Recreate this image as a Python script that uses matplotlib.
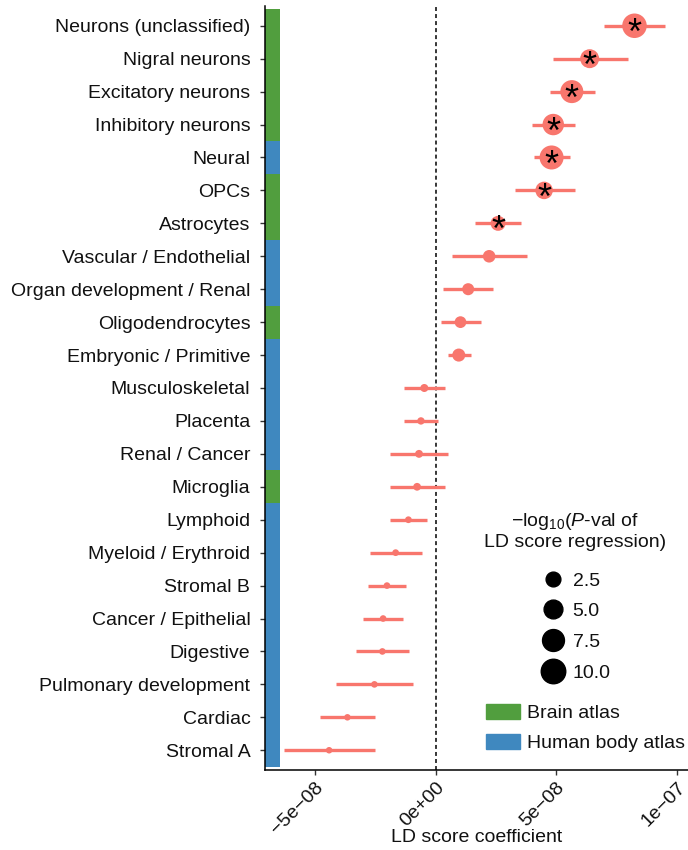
import matplotlib
matplotlib.use("Agg")
import matplotlib.pyplot as plt
from matplotlib.lines import Line2D
from matplotlib.patches import Patch
import numpy as np

plt.rcParams['font.family'] = ['Liberation Sans', 'DejaVu Sans']
plt.rcParams['mathtext.fontset'] = 'custom'
plt.rcParams['mathtext.rm'] = 'Liberation Sans'
plt.rcParams['mathtext.it'] = 'Liberation Sans:italic'

# cell types, top to bottom
cell_types = ["Neurons (unclassified)", "Nigral neurons", "Excitatory neurons",
              "Inhibitory neurons", "Neural", "OPCs", "Astrocytes",
              "Vascular / Endothelial", "Organ development / Renal", "Oligodendrocytes",
              "Embryonic / Primitive", "Musculoskeletal", "Placenta", "Renal / Cancer",
              "Microglia", "Lymphoid", "Myeloid / Erythroid", "Stromal B",
              "Cancer / Epithelial", "Digestive", "Pulmonary development", "Cardiac",
              "Stromal A"]
atlas = ["brain", "brain", "brain", "brain", "body", "brain", "brain",
         "body", "body", "brain", "body", "body", "body", "body",
         "brain", "body", "body", "body", "body", "body", "body", "body", "body"]
# LD score coefficient (units of 1e-9)
coef = [82.5, 63.9, 56.5, 48.8, 48.1, 45.0, 25.9, 22.2, 13.5, 10.3, 9.6,
        -4.7, -6.1, -6.9, -7.7, -11.3, -16.6, -20.2, -21.8, -22.1, -25.4, -36.6, -44.2]
ci_low = [70.0, 48.7, 47.3, 40.0, 40.7, 32.8, 16.3, 6.9, 3.2, 2.1, 5.0,
          -13.0, -13.1, -18.8, -19.0, -18.9, -27.2, -27.9, -30.1, -32.9, -41.4, -47.8, -62.8]
ci_high = [95.2, 79.7, 66.2, 57.8, 55.9, 57.7, 35.6, 37.7, 24.0, 18.9, 14.5,
           3.8, 1.0, 5.0, 3.8, -3.7, -5.8, -12.2, -13.4, -11.2, -9.4, -25.0, -25.3]
neglog_p = [10.0, 5.1, 8.5, 7.1, 9.5, 4.1, 2.6, 1.5, 1.3, 1.2, 1.7,
            0.24, 0.15, 0.22, 0.2, 0.08, 0.08, 0.07, 0.07, 0.07, 0.07, 0.06, 0.06]
significant = [True] * 7 + [False] * 16

size_breaks = [2.5, 5.0, 7.5, 10.0]
xticks = [-5e-8, 0, 5e-8, 1e-7]
xtick_labels = ["\u22125e\u221208", "0e+00", "5e\u221208", "1e\u221207"]

point_col = "#F8766D"
atlas_cols = {"brain": "#519E3E", "body": "#3F88BF"}
text_col = "#111111"


def diam_pt(v):
    # point diameter in points, area-like scaling
    return (5 + 20 * np.sqrt(np.asarray(v) / 10.5)) * 0.72


coef_v = np.array(coef) * 1e-9
lo_v = np.array(ci_low) * 1e-9
hi_v = np.array(ci_high) * 1e-9
ypos = np.arange(len(cell_types))

fig = plt.figure(figsize=(6.88, 8.5), dpi=100)
ax = fig.add_axes([265 / 688, 80 / 850, 423 / 688, 764 / 850])

xmin, xmax = -70.8e-9, 104.7e-9
strip_w = 6.3e-9

# atlas strip
ax.barh(ypos, strip_w, left=xmin, height=1.0,
        color=[atlas_cols[a] for a in atlas], zorder=1)

ax.axvline(0, color="black", lw=1.1, ls=(0, (2.6, 2.0)), zorder=2)

ax.hlines(ypos, lo_v, hi_v, color=point_col, lw=2.4, zorder=3)
ax.scatter(coef_v, ypos, s=diam_pt(neglog_p) ** 2, color=point_col,
           edgecolors="none", zorder=4)

for x, y, sig in zip(coef_v, ypos, significant):
    if sig:
        ax.annotate("*", (x, y), xytext=(0, -13), textcoords="offset points",
                    ha="center", va="baseline", fontsize=26, color="black",
                    zorder=5)

ax.set_xlim(xmin, xmax)
ax.set_ylim(len(cell_types) - 0.4, -0.6)
ax.set_yticks(ypos)
ax.set_yticklabels(cell_types, fontsize=14, color=text_col)
ax.set_xticks(xticks)
ax.set_xticklabels(xtick_labels, fontsize=14, color=text_col, rotation=45,
                   ha="right", va="top", rotation_mode="anchor")
ax.set_xlabel("LD score coefficient", fontsize=14, color=text_col, va="center")
ax.xaxis.set_label_coords(0.5, -67 / 764)
ax.tick_params(length=3.6, width=1, color="#333333")
ax.tick_params(axis="y", pad=7)
ax.tick_params(axis="x", pad=3)

for side in ["top", "right"]:
    ax.spines[side].set_visible(False)
for side in ["left", "bottom"]:
    ax.spines[side].set_linewidth(1.1)
    ax.spines[side].set_zorder(6)

fig.text(575 / 688, 1 - 531 / 850,
         "\u2212log$_{10}$($\\it{P}$-val of\nLD score regression)",
         ha="center", va="center", multialignment="center", fontsize=14,
         color=text_col)

size_handles = [Line2D([], [], marker="o", ls="", color="black",
                       markersize=diam_pt(v)) for v in size_breaks]
leg1 = fig.legend(size_handles, [f"{v:.1f}" for v in size_breaks],
                  loc="upper center", bbox_to_anchor=(575 / 688, 1 - 572 / 850),
                  frameon=False, fontsize=14, handlelength=1.4,
                  handletextpad=0.3, labelspacing=0.67, borderpad=0,
                  borderaxespad=0)

fill_handles = [Patch(color=atlas_cols["brain"]), Patch(color=atlas_cols["body"])]
leg2 = fig.legend(fill_handles, ["Brain atlas", "Human body atlas"],
                  loc="upper left", bbox_to_anchor=(486 / 688, 1 - 704 / 850),
                  frameon=False, fontsize=14, handlelength=1.75,
                  handleheight=0.8, handletextpad=0.35, labelspacing=0.6,
                  borderpad=0, borderaxespad=0)
for t in leg1.get_texts() + leg2.get_texts():
    t.set_color(text_col)

fig.savefig("out.png", dpi=100)
